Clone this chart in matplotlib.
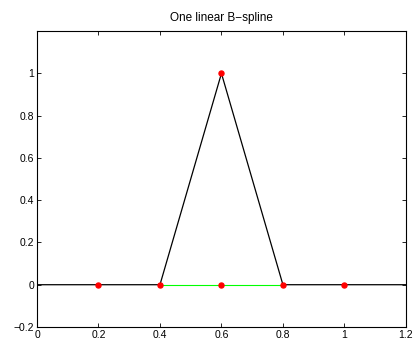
import matplotlib
matplotlib.use("Agg")
import matplotlib.pyplot as plt

plt.rcParams['font.family'] = ['Liberation Sans', 'DejaVu Sans']

# piecewise-linear hat function and its knots
curve_x = [0.0, 0.4, 0.6, 0.8, 1.2]
curve_y = [0.0, 0.0, 1.0, 0.0, 0.0]
support_x = [0.4, 0.8]
support_y = [0.0, 0.0]
knot_x = [0.2, 0.4, 0.6, 0.8, 1.0]
knot_y = [0.0, 0.0, 0.0, 0.0, 0.0]
peak_x = [0.6]
peak_y = [1.0]

xticks = [0, 0.2, 0.4, 0.6, 0.8, 1, 1.2]
xtick_labels = ['0', '0.2', '0.4', '0.6', '0.8', '1', '1.2']
yticks = [-0.2, 0, 0.2, 0.4, 0.6, 0.8, 1]
ytick_labels = ['\u22120.2', '0', '0.2', '0.4', '0.6', '0.8', '1']

fig = plt.figure(figsize=(4.15, 3.42), dpi=100)
ax = fig.add_axes([0.0892, 0.0439, 0.8888, 0.8651])

ax.plot(curve_x, curve_y, color='black', lw=0.9, zorder=2)
ax.plot(support_x, support_y, color='#00ff00', lw=0.8, zorder=3)
ax.plot(knot_x, knot_y, 'o', color='red', ms=3.6, mec='red', zorder=4)
ax.plot(peak_x, peak_y, 'o', color='red', ms=3.6, mec='red', zorder=4)

ax.set_xlim(0, 1.2)
ax.set_ylim(-0.2, 1.2)
ax.set_xticks(xticks)
ax.set_xticklabels(xtick_labels)
ax.set_yticks(yticks)
ax.set_yticklabels(ytick_labels)
ax.tick_params(direction='in', length=3, width=0.6, labelsize=7.5, pad=2,
               top=True, right=True)
for s in ax.spines.values():
    s.set_linewidth(0.8)

ax.set_title('One linear B\u2212spline', fontsize=8.5, pad=7)

fig.savefig('out.png', dpi=100)
